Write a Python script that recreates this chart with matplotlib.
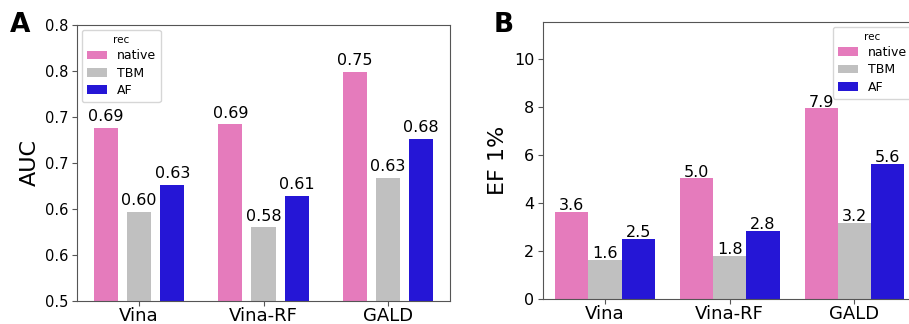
import numpy as np
import matplotlib
matplotlib.use('Agg')
import matplotlib.pyplot as plt
from matplotlib.patches import Patch

# data
methods = ['Vina', 'Vina-RF', 'GALD']
recs = ['native', 'TBM', 'AF']
auc_native = [0.688, 0.692, 0.749]
auc_tbm = [0.597, 0.580, 0.634]
auc_af = [0.626, 0.614, 0.676]
ef_native = [3.64, 5.02, 7.93]
ef_tbm = [1.64, 1.78, 3.18]
ef_af = [2.50, 2.84, 5.62]

colors = ['#e57bbc', '#c0c0c0', '#2516d6']
spine_col = '#555555'

fig = plt.figure(figsize=(9.09, 3.24), dpi=100)
axA = fig.add_axes([0.0844, 0.0710, 0.411, 0.852])
axB = fig.add_axes([0.597, 0.0772, 0.4115, 0.856])

x = np.arange(len(methods))
step = 0.8 / 3
offsets = [-step, 0, step]

# ---- panel A (narrow bars with gaps)
for vals, off, c in zip([auc_native, auc_tbm, auc_af], offsets, colors):
    bars = axA.bar(x + off, vals, width=0.195, color=c)
    for b, v in zip(bars, vals):
        axA.text(b.get_x() + b.get_width() / 2, v + 0.004, '%.2f' % v,
                 ha='center', va='bottom', fontsize=11.5)
axA.set_ylim(0.5, 0.8)
axA.set_xlim(-0.5, 2.5)
yt = np.arange(0.5, 0.801, 0.05)
axA.set_yticks(yt)
axA.set_yticklabels(['%.1f' % t for t in yt], fontsize=10.5)
axA.set_xticks(x)
axA.set_xticklabels(methods, fontsize=13)
axA.set_ylabel('AUC', fontsize=16)

# ---- panel B (touching bars)
for vals, off, c in zip([ef_native, ef_tbm, ef_af], offsets, colors):
    bars = axB.bar(x + off, vals, width=step, color=c)
    for b, v in zip(bars, vals):
        axB.text(b.get_x() + b.get_width() / 2, v - 0.05, '%.1f' % v,
                 ha='center', va='bottom', fontsize=11.5)
axB.set_ylim(0, 11.54)
axB.set_xlim(-0.5, 2.5)
axB.set_yticks([0, 2, 4, 6, 8, 10])
axB.tick_params(axis='y', labelsize=11.5)
axB.set_xticks(x)
axB.set_xticklabels(methods, fontsize=13)
axB.set_ylabel('EF 1%', fontsize=16)

handles = [Patch(facecolor=c, label=r) for c, r in zip(colors, recs)]
for ax, loc in [(axA, 'upper left'), (axB, 'upper right')]:
    for s in ax.spines.values():
        s.set_color(spine_col)
    ax.tick_params(axis='both', color=spine_col, pad=2.5)
    ax.tick_params(axis='x', pad=1)
    ax.legend(handles=handles, title='rec', loc=loc, fontsize=9,
              title_fontsize=7.5, handlelength=1.6, labelspacing=0.35,
              borderaxespad=0.4)

fig.text(10 / 909, 1 - 32 / 324, 'A', fontsize=19, fontweight='bold', va='baseline')
fig.text(494 / 909, 1 - 32 / 324, 'B', fontsize=19, fontweight='bold', va='baseline')

fig.savefig('out.png', dpi=100)
